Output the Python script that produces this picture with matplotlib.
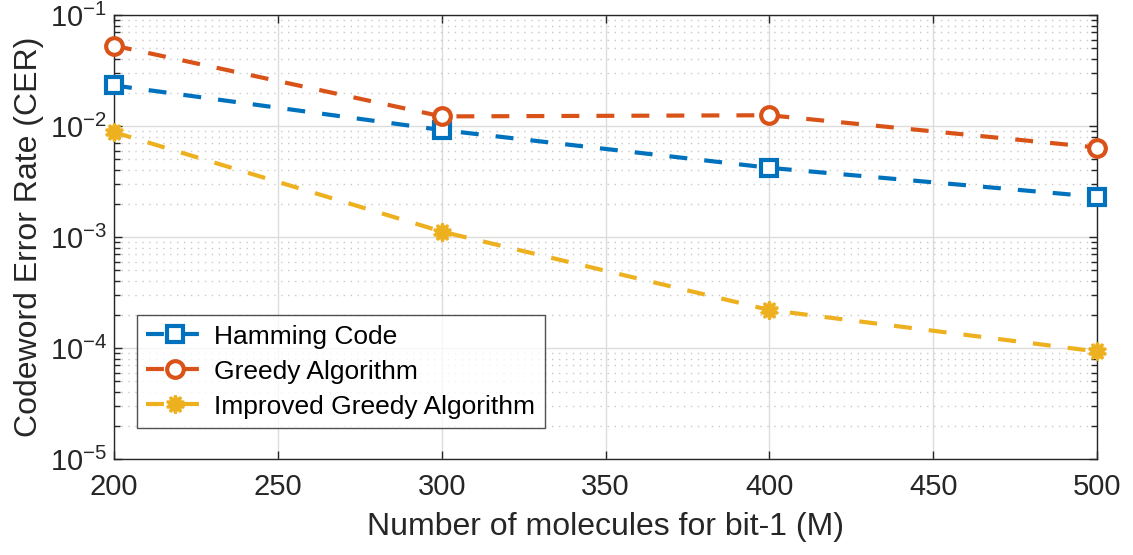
import numpy as np
import matplotlib
matplotlib.use("Agg")
import matplotlib.pyplot as plt
from matplotlib import ticker as tk

plt.rcParams['font.family'] = ['Liberation Sans', 'DejaVu Sans']
plt.rcParams['mathtext.fontset'] = 'custom'
plt.rcParams['mathtext.rm'] = 'Liberation Sans'
plt.rcParams['mathtext.default'] = 'regular'

molecules = [200, 300, 400, 500]
hamming = [0.0232, 0.0092, 0.0042, 0.0023]
greedy = [0.053, 0.0122, 0.0125, 0.0064]
improved = [0.0088, 0.00112, 0.00022, 0.000093]

labels = ["Hamming Code", "Greedy Algorithm", "Improved Greedy Algorithm"]
colors = [(0, 0.447, 0.741), (0.85, 0.325, 0.098), (0.929, 0.694, 0.125)]

fig = plt.figure(figsize=(11.33, 5.55), dpi=100)
ax = fig.add_axes([114 / 1133, 1 - 459 / 555, (1097 - 114) / 1133, (459 - 15) / 555])

dash = (0, (4.3, 4.1))
ax.plot(molecules, hamming, linestyle=dash, color=colors[0], linewidth=3, marker='s',
        markersize=11, markerfacecolor='white', markeredgewidth=3, markeredgecolor=colors[0],
        label=labels[0], clip_on=False, zorder=3)
ax.plot(molecules, greedy, linestyle=dash, color=colors[1], linewidth=3, marker='o',
        markersize=12, markerfacecolor='white', markeredgewidth=3, markeredgecolor=colors[1],
        label=labels[1], clip_on=False, zorder=3)
ax.plot(molecules, improved, linestyle=dash, color=colors[2], linewidth=3, marker=(10, 1, 0),
        markersize=13, markerfacecolor=colors[2], markeredgewidth=2, markeredgecolor=colors[2],
        label=labels[2], clip_on=False, zorder=3)

ax.set_yscale('log')
ax.set_xlim(200, 500)
ax.set_ylim(1e-5, 1e-1)
ax.xaxis.set_major_locator(tk.MultipleLocator(50))
ax.yaxis.set_major_locator(tk.LogLocator(base=10, numticks=10))
ax.yaxis.set_major_formatter(tk.FuncFormatter(lambda v, p: r'$10^{%d}$' % round(np.log10(v))))
ax.yaxis.set_minor_locator(tk.LogLocator(base=10, subs=np.arange(2, 10), numticks=20))
ax.yaxis.set_minor_formatter(tk.NullFormatter())

ax.grid(True, which='major', color='#dcdcdc', linewidth=1, linestyle='-')
ax.grid(True, which='minor', axis='y', color='#c8c8c8', linewidth=1, linestyle=(0, (1, 4)))
ax.set_axisbelow(True)

ax.tick_params(which='both', direction='in', top=True, right=True, colors='#262626', labelsize=21)
ax.tick_params(which='major', length=6, width=1)
ax.tick_params(which='minor', length=4, width=1)
ax.tick_params(axis='x', pad=10)
ax.tick_params(axis='y', pad=5)
for sp in ax.spines.values():
    sp.set_color('#262626')
    sp.set_linewidth(1)

ax.set_xlabel("Number of molecules for bit-1 (M)", fontsize=23, color='#262626', labelpad=8)
ax.set_ylabel("Codeword Error Rate (CER)", fontsize=23, color='#262626', labelpad=4)

leg = ax.legend(loc='lower left', bbox_to_anchor=(0.023, 0.07), fontsize=19, frameon=True,
                fancybox=False, edgecolor='#262626', handlelength=2.2, borderpad=0.35,
                labelspacing=0.42, handletextpad=0.4, borderaxespad=0)
leg.get_frame().set_linewidth(1)

fig.savefig("out.png", dpi=100)
